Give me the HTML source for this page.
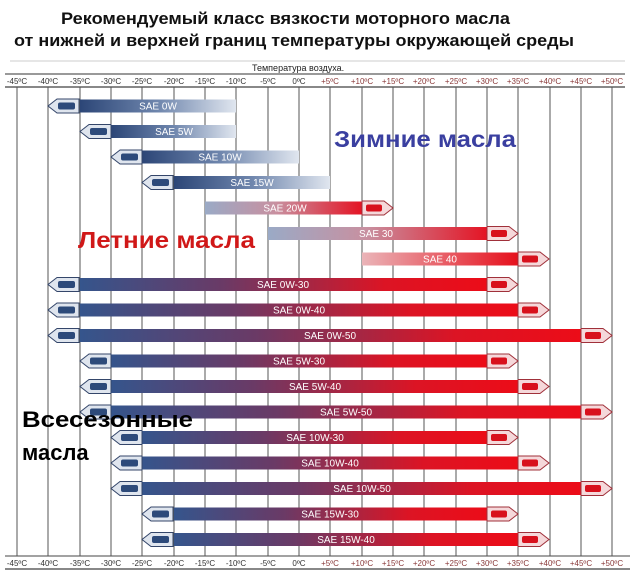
<!DOCTYPE html>
<html><head><meta charset="utf-8"><style>
html,body{margin:0;padding:0;background:#fff;}
svg{display:block;font-family:"Liberation Sans",sans-serif;}
</style></head><body>
<svg width="640" height="583" viewBox="0 0 640 583" xmlns="http://www.w3.org/2000/svg">
<defs>
<linearGradient id="gw" x1="0" x2="1" y1="0" y2="0"><stop offset="0" stop-color="#2c4677"/><stop offset="0.5" stop-color="#6f86ad"/><stop offset="1" stop-color="#e0e6ef"/></linearGradient>
<linearGradient id="gs" x1="0" x2="1" y1="0" y2="0"><stop offset="0" stop-color="#9aaac6"/><stop offset="0.45" stop-color="#c890a0"/><stop offset="1" stop-color="#e41424"/></linearGradient>
<linearGradient id="gs2" x1="0" x2="1" y1="0" y2="0"><stop offset="0" stop-color="#eab4b8"/><stop offset="1" stop-color="#e6101c"/></linearGradient>
<linearGradient id="ga" x1="0" x2="1" y1="0" y2="0"><stop offset="0" stop-color="#35558c"/><stop offset="0.35" stop-color="#6a3a66"/><stop offset="0.75" stop-color="#dc1424"/><stop offset="1" stop-color="#ec0c18"/></linearGradient>
<g id="lc"><polygon points="0,0 9,-7 31,-7 31,7 9,7" fill="#dfe5ee" stroke="#34466a" stroke-width="1"/><rect x="10" y="-3.5" width="17" height="7" rx="2" fill="#2d4a7a"/></g>
<g id="rc"><polygon points="0,-7 22,-7 31,0 22,7 0,7" fill="#f5d8da" stroke="#a0303a" stroke-width="1"/><rect x="4" y="-3.5" width="16" height="7" rx="2" fill="#d8101c"/></g>
</defs>

<text x="61" y="24" font-size="17" font-weight="bold" fill="#111" textLength="449" lengthAdjust="spacingAndGlyphs">Рекомендуемый класс вязкости моторного масла</text>
<text x="14" y="46" font-size="17" font-weight="bold" fill="#111" textLength="560" lengthAdjust="spacingAndGlyphs">от нижней и верхней границ температуры окружающей среды</text>

<line x1="10" y1="61" x2="625" y2="61" stroke="#ccc" stroke-width="1"/>
<text x="252" y="71" font-size="9" fill="#222">Температура воздуха.</text>
<line x1="5" y1="74" x2="625" y2="74" stroke="#333" stroke-width="1"/>
<line x1="5" y1="87" x2="625" y2="87" stroke="#888" stroke-width="2"/>
<line x1="5" y1="556" x2="630" y2="556" stroke="#444" stroke-width="1"/>
<line x1="5" y1="569" x2="630" y2="569" stroke="#888" stroke-width="2"/>

<g stroke="#555" stroke-width="1">
<line x1="17" y1="87" x2="17" y2="556"/><line x1="48" y1="87" x2="48" y2="556"/><line x1="80" y1="87" x2="80" y2="556"/><line x1="111" y1="87" x2="111" y2="556"/><line x1="142" y1="87" x2="142" y2="556"/><line x1="174" y1="87" x2="174" y2="556"/><line x1="205" y1="87" x2="205" y2="556"/><line x1="236" y1="87" x2="236" y2="556"/><line x1="268" y1="87" x2="268" y2="556"/><line x1="299" y1="87" x2="299" y2="556"/><line x1="330" y1="87" x2="330" y2="556"/><line x1="362" y1="87" x2="362" y2="556"/><line x1="393" y1="87" x2="393" y2="556"/><line x1="424" y1="87" x2="424" y2="556"/><line x1="456" y1="87" x2="456" y2="556"/><line x1="487" y1="87" x2="487" y2="556"/><line x1="518" y1="87" x2="518" y2="556"/><line x1="550" y1="87" x2="550" y2="556"/><line x1="581" y1="87" x2="581" y2="556"/><line x1="612" y1="87" x2="612" y2="556"/>
</g>

<g font-size="8" text-anchor="middle" fill="#333">
<text x="17" y="84">-45ºC</text><text x="48" y="84">-40ºC</text><text x="80" y="84">-35ºC</text><text x="111" y="84">-30ºC</text><text x="142" y="84">-25ºC</text><text x="174" y="84">-20ºC</text><text x="205" y="84">-15ºC</text><text x="236" y="84">-10ºC</text><text x="268" y="84">-5ºC</text><text x="299" y="84">0ºC</text>
<text x="17" y="566">-45ºC</text><text x="48" y="566">-40ºC</text><text x="80" y="566">-35ºC</text><text x="111" y="566">-30ºC</text><text x="142" y="566">-25ºC</text><text x="174" y="566">-20ºC</text><text x="205" y="566">-15ºC</text><text x="236" y="566">-10ºC</text><text x="268" y="566">-5ºC</text><text x="299" y="566">0ºC</text>
</g>
<g font-size="8" text-anchor="middle" fill="#8a3a3a">
<text x="330" y="84">+5ºC</text><text x="362" y="84">+10ºC</text><text x="393" y="84">+15ºC</text><text x="424" y="84">+20ºC</text><text x="456" y="84">+25ºC</text><text x="487" y="84">+30ºC</text><text x="518" y="84">+35ºC</text><text x="550" y="84">+40ºC</text><text x="581" y="84">+45ºC</text><text x="612" y="84">+50ºC</text>
<text x="330" y="566">+5ºC</text><text x="362" y="566">+10ºC</text><text x="393" y="566">+15ºC</text><text x="424" y="566">+20ºC</text><text x="456" y="566">+25ºC</text><text x="487" y="566">+30ºC</text><text x="518" y="566">+35ºC</text><text x="550" y="566">+40ºC</text><text x="581" y="566">+45ºC</text><text x="612" y="566">+50ºC</text>
</g>

<rect x="80" y="99.5" width="156" height="13" fill="url(#gw)"/><use href="#lc" x="48" y="106"/>
<rect x="111" y="125" width="125" height="13" fill="url(#gw)"/><use href="#lc" x="80" y="131.5"/>
<rect x="142" y="150.5" width="157" height="13" fill="url(#gw)"/><use href="#lc" x="111" y="157"/>
<rect x="174" y="176" width="156" height="13" fill="url(#gw)"/><use href="#lc" x="142" y="182.5"/>
<rect x="205" y="201.5" width="157" height="13" fill="url(#gs)"/><use href="#rc" x="362" y="208"/>
<rect x="268" y="227" width="219" height="13" fill="url(#gs)"/><use href="#rc" x="487" y="233.5"/>
<rect x="362" y="252.5" width="156" height="13" fill="url(#gs2)"/><use href="#rc" x="518" y="259"/>
<rect x="80" y="278" width="407" height="13" fill="url(#ga)"/><use href="#lc" x="48" y="284.5"/><use href="#rc" x="487" y="284.5"/>
<rect x="80" y="303.5" width="438" height="13" fill="url(#ga)"/><use href="#lc" x="48" y="310"/><use href="#rc" x="518" y="310"/>
<rect x="80" y="329" width="501" height="13" fill="url(#ga)"/><use href="#lc" x="48" y="335.5"/><use href="#rc" x="581" y="335.5"/>
<rect x="111" y="354.5" width="376" height="13" fill="url(#ga)"/><use href="#lc" x="80" y="361"/><use href="#rc" x="487" y="361"/>
<rect x="111" y="380" width="407" height="13" fill="url(#ga)"/><use href="#lc" x="80" y="386.5"/><use href="#rc" x="518" y="386.5"/>
<rect x="111" y="405.5" width="470" height="13" fill="url(#ga)"/><use href="#lc" x="80" y="412"/><use href="#rc" x="581" y="412"/>
<rect x="142" y="431" width="345" height="13" fill="url(#ga)"/><use href="#lc" x="111" y="437.5"/><use href="#rc" x="487" y="437.5"/>
<rect x="142" y="456.5" width="376" height="13" fill="url(#ga)"/><use href="#lc" x="111" y="463"/><use href="#rc" x="518" y="463"/>
<rect x="142" y="482" width="439" height="13" fill="url(#ga)"/><use href="#lc" x="111" y="488.5"/><use href="#rc" x="581" y="488.5"/>
<rect x="174" y="507.5" width="313" height="13" fill="url(#ga)"/><use href="#lc" x="142" y="514"/><use href="#rc" x="487" y="514"/>
<rect x="174" y="533" width="344" height="13" fill="url(#ga)"/><use href="#lc" x="142" y="539.5"/><use href="#rc" x="518" y="539.5"/>

<g font-size="10" fill="#fff" text-anchor="middle">
<text x="158" y="109.5">SAE 0W</text>
<text x="174" y="135">SAE 5W</text>
<text x="220" y="160.5">SAE 10W</text>
<text x="252" y="186">SAE 15W</text>
<text x="285" y="211.5">SAE 20W</text>
<text x="376" y="237">SAE 30</text>
<text x="440" y="262.5">SAE 40</text>
<text x="283" y="288">SAE 0W-30</text>
<text x="299" y="313.5">SAE 0W-40</text>
<text x="330" y="339">SAE 0W-50</text>
<text x="299" y="364.5">SAE 5W-30</text>
<text x="315" y="390">SAE 5W-40</text>
<text x="346" y="415.5">SAE 5W-50</text>
<text x="315" y="441">SAE 10W-30</text>
<text x="330" y="466.5">SAE 10W-40</text>
<text x="362" y="492">SAE 10W-50</text>
<text x="330" y="517.5">SAE 15W-30</text>
<text x="346" y="543">SAE 15W-40</text>
</g>

<text x="334" y="147" font-size="23" font-weight="bold" fill="#3a3fa0" textLength="182" lengthAdjust="spacingAndGlyphs">Зимние масла</text>
<text x="78" y="248" font-size="23" font-weight="bold" fill="#d01818" textLength="177" lengthAdjust="spacingAndGlyphs">Летние масла</text>
<text x="22" y="427" font-size="22" font-weight="bold" fill="#000" textLength="171" lengthAdjust="spacingAndGlyphs">Всесезонные</text>
<text x="22" y="460" font-size="22" font-weight="bold" fill="#000">масла</text>
</svg>
</body></html>
